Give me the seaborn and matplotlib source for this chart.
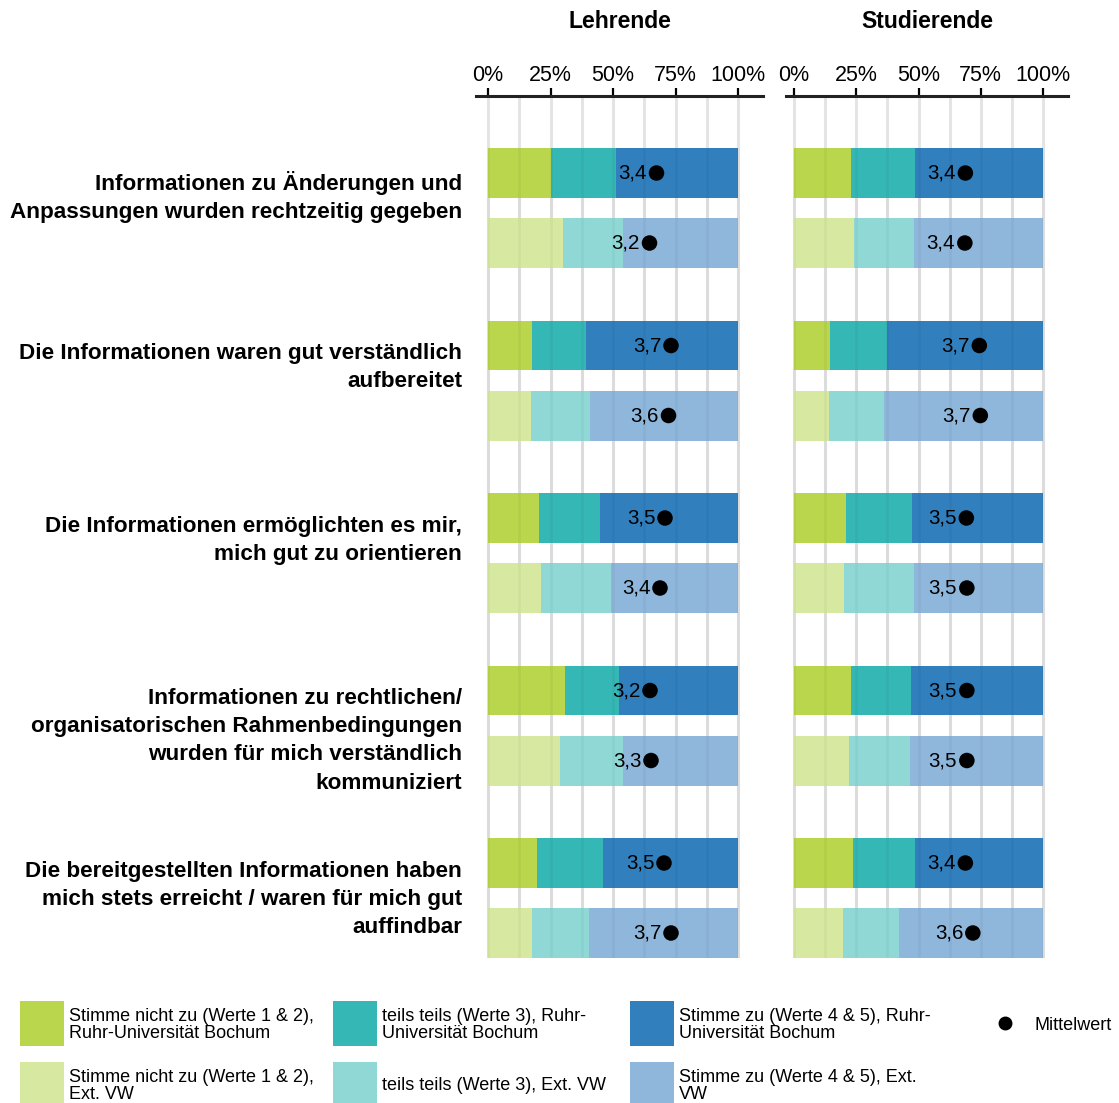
import matplotlib
matplotlib.use("Agg")
import matplotlib.pyplot as plt
from matplotlib.patches import Rectangle
import seaborn as sns
import numpy as np

W, H = 1119, 1103

ITEMS = [
    "Informationen zu Änderungen und\nAnpassungen wurden rechtzeitig gegeben",
    "Die Informationen waren gut verständlich\naufbereitet",
    "Die Informationen ermöglichten es mir,\nmich gut zu orientieren",
    "Informationen zu rechtlichen/\norganisatorischen Rahmenbedingungen\nwurden für mich verständlich\nkommuniziert",
    "Die bereitgestellten Informationen haben\nmich stets erreicht / waren für mich gut\nauffindbar",
]

# shares in %, per item: Ruhr-Universität Bochum row, then Ext. VW row
lehr_disagree = [25.2, 30.0, 17.6, 17.2, 20.3, 21.3, 30.8, 28.8, 19.6, 17.7]
lehr_neutral = [26.0, 24.0, 21.6, 23.7, 24.5, 27.9, 21.7, 25.3, 26.5, 22.8]
lehr_agree = [48.8, 46.0, 60.8, 59.1, 55.2, 50.8, 47.5, 45.9, 53.9, 59.5]
lehr_mean = [3.37, 3.23, 3.66, 3.61, 3.54, 3.44, 3.24, 3.26, 3.52, 3.66]

stud_disagree = [22.8, 24.0, 14.6, 14.2, 20.9, 20.0, 22.9, 22.0, 23.7, 19.8]
stud_neutral = [25.8, 24.3, 22.7, 22.1, 26.5, 28.2, 24.1, 24.6, 24.9, 22.5]
stud_agree = [51.4, 51.7, 62.7, 63.7, 52.6, 51.8, 53.0, 53.4, 51.4, 57.7]
stud_mean = [3.44, 3.43, 3.72, 3.74, 3.46, 3.47, 3.47, 3.47, 3.44, 3.59]

TICKS = [0, 25, 50, 75, 100]
TICK_LABELS = ["0%", "25%", "50%", "75%", "100%"]

COLORS_RUB = ["#b9d64c", "#35b7b5", "#317fbd"]
COLORS_EXT = ["#d7e9a1", "#90d8d6", "#8fb7db"]

LEGEND_TEXT_RUB = [
    "Stimme nicht zu (Werte 1 & 2),\nRuhr-Universität Bochum",
    "teils teils (Werte 3), Ruhr-\nUniversität Bochum",
    "Stimme zu (Werte 4 & 5), Ruhr-\nUniversität Bochum",
]
LEGEND_TEXT_EXT = [
    "Stimme nicht zu (Werte 1 & 2),\nExt. VW",
    "teils teils (Werte 3), Ext. VW",
    "Stimme zu (Werte 4 & 5), Ext.\nVW",
]

sns.set_theme(style="white")
plt.rcParams["font.family"] = ["Liberation Sans", "DejaVu Sans"]
plt.rcParams["text.color"] = "black"
plt.rcParams["xtick.color"] = "black"

# bar positions: two rows per item, larger gap between items
pos = []
for i in range(len(ITEMS)):
    pos += [i * 2.464, i * 2.464 + 1]
pos = np.array(pos)
BAR_H = 0.714


def fig_box(x0, x1):
    # axes rectangle from pixel extents (top 96 px, bottom 958 px)
    return [x0 / W, 1 - 958 / H, (x1 - x0) / W, (958 - 96) / H]


def draw_panel(ax, title, parts, means, xlim):
    left = np.zeros(len(pos))
    for k, vals in enumerate(parts):
        vals = np.array(vals)
        cols = [COLORS_RUB[k] if j % 2 == 0 else COLORS_EXT[k] for j in range(len(vals))]
        ax.barh(pos, vals, left=left, height=BAR_H, color=cols, zorder=2, linewidth=0)
        left += vals

    mean_x = np.array(means) / 5 * 100
    sns.scatterplot(x=mean_x, y=pos, ax=ax, color="black", s=125,
                    edgecolor="none", zorder=5, legend=False)
    for mx, y, m in zip(mean_x, pos, means):
        ax.annotate(f"{m:.1f}".replace(".", ","), (mx, y), xytext=(-7, 0),
                    textcoords="offset points", ha="right", va="center",
                    fontsize=14.8, color="black", zorder=6)

    ax.set_xlim(*xlim)
    ax.set_ylim(pos[-1] + BAR_H / 2, -1.1)
    ax.set_xticks(TICKS)
    ax.set_xticklabels(TICK_LABELS)
    ax.set_xticks([12.5, 37.5, 62.5, 87.5], minor=True)
    ax.set_yticks([])
    ax.xaxis.tick_top()
    ax.tick_params(axis="x", which="major", direction="out", length=6, width=1.6,
                   pad=1, labelsize=15.5, colors="black", top=True, bottom=False)
    ax.tick_params(axis="x", which="minor", length=0)
    ax.grid(axis="x", which="both", color="#e4e4e4", linewidth=2.2, zorder=0)
    ax.set_axisbelow(True)
    # faint grid showing through the bars
    ax.vlines([0, 12.5, 25, 37.5, 50, 62.5, 75, 87.5, 100], pos[0] - BAR_H / 2,
              pos[-1] + BAR_H / 2, color="black", alpha=0.035, linewidth=2, zorder=3)
    for side in ["left", "right", "bottom"]:
        ax.spines[side].set_visible(False)
    ax.spines["top"].set_linewidth(2.2)
    ax.spines["top"].set_color("#222222")
    ax.annotate(title, xy=(0.5, 1), xycoords="axes fraction", xytext=(0, 54),
                textcoords="offset points", ha="center", va="center",
                fontsize=16.5, fontweight="bold")


fig = plt.figure(figsize=(W / 100, H / 100), dpi=100)
ax1 = fig.add_axes(fig_box(476, 763))
ax2 = fig.add_axes(fig_box(786, 1068))

draw_panel(ax1, "Lehrende", [lehr_disagree, lehr_neutral, lehr_agree], lehr_mean, (-4.8, 110))
draw_panel(ax2, "Studierende", [stud_disagree, stud_neutral, stud_agree], stud_mean, (-3.2, 110))

for i, label in enumerate(ITEMS):
    ax1.text(-10.4, pos[2 * i] - 0.03, label, ha="right", va="top",
             fontsize=16.2, fontweight="bold", linespacing=1.44, clip_on=False)

# legend, laid out by hand in figure pixels
col_x = [20, 333, 630]
for k in range(3):
    for row, (cols, texts, top) in enumerate([(COLORS_RUB, LEGEND_TEXT_RUB, 1001),
                                               (COLORS_EXT, LEGEND_TEXT_EXT, 1062)]):
        fig.add_artist(Rectangle((col_x[k] / W, 1 - (top + 45) / H), 44 / W, 45 / H,
                                 transform=fig.transFigure, color=cols[k], lw=0))
        fig.text((col_x[k] + 49) / W, 1 - (top + 24) / H, texts[k], ha="left", va="center",
                 fontsize=13, linespacing=1.02)

fig.add_artist(plt.Line2D([1005 / W], [1 - 1023 / H], marker="o", markersize=9,
                          color="black", transform=fig.transFigure))
fig.text(1034 / W, 1 - 1026 / H, "Mittelwert", ha="left", va="center", fontsize=13)

fig.savefig("out.png", dpi=100)
